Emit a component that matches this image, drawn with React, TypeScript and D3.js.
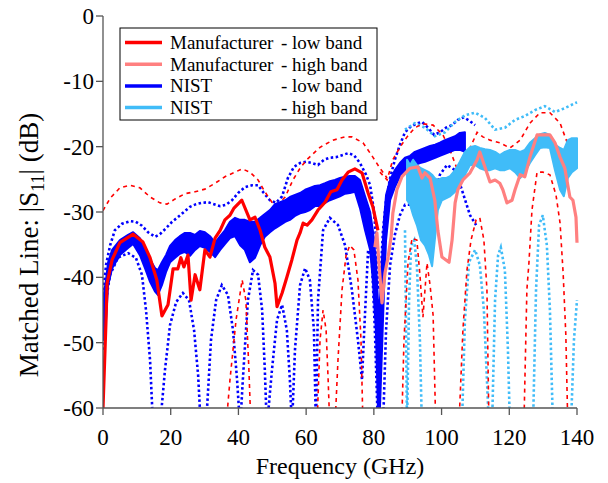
import React from 'react';
import * as d3 from 'd3';

// ---- axis ticks ----
const xTicks = [0, 20, 40, 60, 80, 100, 120, 140];
const yTicks = [0, -10, -20, -30, -40, -50, -60];

// ---- Manufacturer low band (solid) [GHz, dB] ----
const mfrLow = [[0,-60],[0.9,-46.5],[1.2,-40.9],[2.7,-37.3],[5.0,-34.7],[8.9,-33.4],[11.8,-34.6],[13.9,-37.0],[15.9,-40.4],[17.4,-45.9],[19.2,-44.2],[20.7,-38.7],[22.1,-38.7],[23.0,-37.0],[23.9,-38.4],[25.1,-36.6],[26.0,-43.5],[27.2,-39.6],[28.6,-41.9],[30.1,-35.8],[31.6,-36.9],[33.1,-34.0],[34.6,-32.8],[36.0,-31.2],[37.5,-30.5],[38.7,-29.4],[41.0,-28.2],[43.4,-31.2],[44.9,-30.8],[46.4,-32.8],[47.8,-35.4],[49.3,-36.9],[50.8,-40.9],[51.4,-44.5],[52.9,-42.4],[54.3,-40.0],[55.8,-37.3],[57.3,-34.3],[58.2,-33.2],[59.1,-31.7],[60.3,-32.0],[61.7,-31.2],[63.5,-29.7],[65.6,-28.5],[67.3,-26.9],[69.1,-26.6],[70.6,-25.1],[72.4,-23.9],[74.4,-23.4],[76.5,-24.0],[78.3,-27.1],[79.7,-29.2],[81.2,-32.8]];

// ---- Manufacturer high band (solid) ----
const mfrHigh = [[80.3,-35.4],[80.9,-33.2],[81.5,-37.8],[82.4,-43.9],[83.3,-39.3],[84.2,-36.9],[85.1,-33.8],[85.6,-30.2],[86.8,-26.6],[88.3,-24.6],[90.7,-23.3],[93.0,-23.1],[94.2,-24.8],[95.1,-24.0],[96.6,-24.8],[98.0,-28.2],[98.9,-32.8],[100.1,-36.9],[102.2,-37.7],[103.1,-34.3],[104.0,-28.6],[104.8,-26.6],[106.3,-25.1],[108.4,-24.0],[110.5,-22.0],[111.3,-20.8],[112.8,-23.1],[114.3,-25.4],[115.8,-25.1],[117.2,-25.6],[118.1,-26.6],[119.3,-28.6],[120.8,-28.2],[121.7,-26.6],[123.2,-24.3],[124.6,-24.6],[126.1,-21.6],[128.2,-18.2],[132.0,-18.2],[133.5,-19.4],[135.0,-21.6],[136.4,-23.3],[137.9,-27.7],[138.8,-28.2],[139.7,-30.8],[140,-34.7]];

// ---- Manufacturer uncertainty bounds (dashed) ----
const mfrLowUpper = [[0,-29.8],[2.1,-27.9],[5.0,-26.3],[8.0,-25.9],[10.9,-26.3],[13.9,-27.7],[16.8,-28.6],[18.9,-28.8],[21.3,-28.0],[24.2,-27.2],[27.2,-26.9],[30.1,-26.5],[33.1,-25.6],[36.0,-24.6],[39.0,-23.9],[41.1,-23.4],[43.4,-23.9],[45.8,-25.1],[47.8,-26.9],[49.9,-28.5],[51.7,-28.8],[53.8,-27.7],[56.1,-25.1],[58.2,-23.3],[60.2,-22.0],[64.1,-20.1],[67.9,-19.0],[71.5,-18.5],[73.5,-18.5],[76.8,-19.4],[79.7,-21.6],[81.8,-23.3],[83.9,-24.8]];
const mfrLowLower = [[0,-63],[36.3,-63],[37.5,-55.7],[39.3,-46.5],[41.1,-40.4],[42.2,-43.5],[43.1,-54.2],[43.7,-63],[63.2,-63],[64.1,-49.6],[65.0,-45.0],[65.9,-48.1],[66.5,-55.7],[67.0,-63],[68.5,-63],[69.4,-52.7],[70.6,-41.9],[71.8,-36.6],[72.9,-35.1],[74.1,-35.8],[75.3,-40.4],[76.2,-49.6],[76.8,-63],[82,-63]];
const mfrHighUpper = [[81.8,-23.9],[83.9,-25.1],[85.6,-22.0],[87.7,-20.1],[89.8,-18.5],[92.1,-17.1],[94.5,-16.5],[97.5,-16.7],[100.4,-18.2],[102.5,-20.5],[104.5,-23.3],[106.3,-23.6],[108.4,-20.2],[110.5,-17.8],[112.2,-18.5],[114.3,-19.0],[117.2,-19.4],[120.2,-20.2],[123.2,-19.0],[126.1,-16.4],[129.1,-14.8],[132.0,-14.8],[135.0,-16.4],[137.9,-20.5],[140,-22.0]];
const mfrHighLower = [[88.2,-63],[88.9,-49.6],[90.1,-37.7],[91.3,-34.0],[92.7,-34.3],[93.6,-39.6],[94.5,-46.1],[95.1,-41.9],[95.7,-37.8],[96.6,-41.2],[97.5,-45.8],[98.3,-63],[105.1,-63],[106.3,-48.1],[107.5,-38.9],[108.7,-34.3],[110.2,-31.2],[111.3,-30.9],[112.5,-34.3],[113.4,-41.9],[114.0,-63],[124.3,-63],[125.2,-41.9],[125.8,-37.8],[126.7,-29.7],[128.2,-23.9],[129.9,-23.9],[132.0,-24.3],[133.8,-27.4],[135.0,-31.7],[135.9,-39.3],[136.7,-48.8],[137.3,-63]];

// ---- NIST low band: [GHz, upper dB, lower dB] of the noisy trace ----
const nistLow = [[0,-43.5,-49.6],[0.9,-40.4,-46.5],[1.5,-37.7,-41.2],[2.7,-35.8,-38.6],[5.0,-34.3,-36.6],[7.4,-33.5,-35.5],[8.9,-33.1,-34.9],[10.9,-34.0,-36.6],[12.4,-35.5,-38.6],[13.9,-37.3,-40.7],[15.4,-38.6,-42.2],[16.2,-38.9,-42.7],[17.4,-37.7,-41.2],[18.6,-36.6,-39.2],[19.8,-35.2,-37.7],[21.3,-34.3,-37.0],[22.7,-33.7,-36.4],[24.2,-33.2,-36.1],[25.7,-33.2,-36.7],[27.2,-33.5,-35.8],[28.6,-32.9,-35.2],[30.1,-33.1,-35.5],[31.6,-33.7,-36.1],[33.1,-34.7,-36.9],[34.6,-33.7,-35.8],[36.0,-32.8,-34.9],[37.5,-31.5,-34.0],[39.0,-30.9,-33.7],[40.5,-31.2,-35.1],[41.9,-31.2,-35.8],[43.4,-31.5,-37.7],[44.9,-31.5,-37.0],[46.4,-30.9,-35.1],[47.8,-30.3,-33.8],[49.3,-29.7,-33.1],[50.8,-28.8,-32.5],[52.3,-28.5,-32.0],[53.8,-28.2,-31.5],[55.2,-27.7,-31.2],[56.7,-27.4,-30.6],[58.2,-27.1,-30.2],[59.7,-26.6,-30.0],[61.1,-26.3,-29.7],[62.6,-26.0,-29.1],[64.1,-25.9,-29.1],[65.6,-25.6,-28.6],[67.0,-25.3,-28.2],[68.5,-25.1,-27.9],[70.0,-24.8,-27.6],[71.5,-24.6,-27.2],[72.9,-24.5,-27.1],[74.4,-24.5,-26.9],[75.9,-25.1,-29.4],[77.4,-27.6,-32.8],[78.9,-30.0,-35.8],[79.7,-32.8,-40.4],[80.6,-37.3,-48.1],[81.2,-43.5,-60],[81.8,-43.5,-60],[82.4,-37.3,-51.1],[83.0,-31.2,-41.9],[83.6,-27.4,-34.3],[84.8,-25.1,-28.2],[86.2,-23.6,-26.2],[87.7,-22.5,-24.6],[89.2,-21.7,-23.7],[90.7,-21.4,-23.4],[92.1,-20.8,-22.8],[93.6,-20.5,-22.5],[95.1,-20.2,-22.3],[96.6,-19.9,-22.0],[98.1,-19.7,-21.7],[99.5,-19.4,-21.4],[101.0,-19.0,-21.1],[102.5,-18.7,-20.8],[104.0,-18.4,-20.5],[105.4,-17.9,-20.5],[106.9,-17.8,-20.8]];

// ---- NIST high band: [GHz, upper dB, lower dB] ----
const nistHigh = [[89.8,-22.0,-28.2],[90.7,-22.8,-28.9],[91.6,-22.0,-30.5],[92.7,-22.8,-32.0],[93.9,-23.3,-34.3],[95.1,-23.6,-35.1],[96.3,-23.9,-36.6],[97.2,-24.3,-38.3],[98.0,-24.8,-34.3],[98.9,-25.1,-29.7],[100.1,-24.8,-28.2],[101.3,-24.8,-27.9],[102.5,-24.5,-27.6],[104.0,-23.6,-26.9],[105.4,-22.3,-26.0],[106.9,-20.8,-24.3],[108.4,-20.1,-22.8],[109.9,-19.9,-22.8],[111.3,-20.2,-23.3],[112.8,-20.4,-23.6],[114.3,-20.5,-23.6],[115.8,-20.8,-23.3],[117.2,-21.3,-23.6],[118.7,-20.8,-23.6],[120.2,-20.5,-23.3],[121.7,-20.5,-23.9],[123.2,-20.8,-24.8],[124.6,-20.5,-23.9],[126.1,-19.4,-22.5],[127.6,-18.7,-21.3],[129.1,-18.1,-20.2],[130.5,-17.9,-20.1],[132.0,-18.2,-20.2],[133.5,-19.7,-23.6],[135.0,-20.2,-26.6],[136.1,-20.5,-27.6],[137.3,-19.0,-24.8],[138.5,-18.7,-23.9],[140,-18.7,-23.3]];

// ---- NIST uncertainty bounds (dotted) ----
const nistLowUpper = [[0,-42.7],[0.9,-38.1],[2.1,-35.1],[3.5,-32.8],[5.6,-31.8],[8.0,-31.4],[9.7,-31.5],[11.5,-32.1],[13.3,-33.1],[15.4,-33.8],[16.8,-33.4],[18.6,-32.5],[20.4,-31.5],[22.1,-30.8],[23.9,-30.0],[25.7,-29.2],[27.5,-28.8],[29.2,-28.6],[31.0,-28.5],[32.8,-28.8],[34.6,-29.1],[36.3,-28.9],[38.1,-28.2],[39.9,-27.1],[41.9,-26.2],[44.0,-25.9],[45.8,-25.9],[47.5,-27.1],[49.3,-28.2],[51.1,-28.6],[52.9,-27.6],[54.6,-24.8],[56.4,-23.1],[58.2,-22.5],[60.0,-22.3],[61.7,-22.5],[63.5,-22.8],[65.3,-22.0],[67.0,-21.7],[68.8,-21.6],[70.6,-21.3],[72.4,-21.0],[74.1,-21.3],[75.9,-22.5],[77.7,-24.3],[78.9,-25.9],[80.0,-29.7],[80.9,-35.8],[81.5,-41.9],[82.1,-38.9],[82.7,-32.8],[83.6,-28.2],[84.8,-24.8],[86.2,-22.0],[87.7,-19.7],[89.2,-17.8],[90.7,-17.0],[92.4,-16.5],[94.2,-16.2],[96.0,-17.1],[97.8,-18.2],[99.5,-17.8],[101.3,-17.1],[103.1,-16.7],[104.8,-15.9],[106.6,-15.5],[108.4,-16.1],[109.9,-16.7]];
const nistLowLower = [[0,-51.1],[0.9,-43.5],[2.1,-39.6],[4.4,-37.0],[7.4,-36.3],[9.7,-37.0],[11.5,-39.6],[12.7,-45.0],[13.9,-52.7],[14.8,-63],[16.8,-63],[18.3,-54.2],[19.8,-47.3],[21.6,-43.8],[23.6,-42.4],[25.4,-43.5],[26.9,-48.1],[28.1,-55.0],[28.9,-63],[30.4,-63],[31.9,-49.6],[33.4,-43.5],[35.1,-41.2],[36.9,-42.7],[38.4,-48.1],[39.6,-55.7],[40.5,-63],[41.3,-55.7],[42.8,-43.5],[44.3,-38.9],[45.8,-39.6],[47.0,-45.0],[47.8,-54.2],[48.4,-63],[49.9,-54.2],[51.4,-46.5],[52.9,-44.2],[54.3,-48.1],[55.2,-55.7],[55.8,-63],[56.7,-51.1],[58.2,-41.2],[59.7,-38.6],[61.1,-40.4],[62.3,-48.1],[62.9,-63],[63.5,-43.5],[65.0,-32.8],[67.0,-30.9],[69.4,-32.0],[71.5,-35.1],[73.5,-41.9],[75.3,-49.6],[76.5,-55.7],[77.1,-48.7],[78.3,-35.8],[79.4,-37.3],[80.3,-48.1],[81.2,-63],[82.7,-63],[83.6,-48.1],[84.8,-38.1],[86.2,-33.5],[87.7,-30.5],[89.2,-28.9],[90.7,-28.9],[92.7,-30.5],[94.8,-31.2],[97.2,-28.9],[99.5,-24.3],[101.6,-22.8],[104.0,-23.6],[106.0,-26.6],[108.4,-30.5],[110.2,-32.0]];
const nistHighUpper = [[89.2,-17.4],[92.1,-16.4],[95.1,-17.1],[98.0,-18.4],[101.0,-17.8],[104.0,-16.2],[106.9,-15.2],[109.9,-14.8],[112.8,-15.6],[115.8,-17.4],[118.7,-17.1],[121.7,-15.9],[124.6,-15.3],[127.6,-14.4],[130.5,-13.8],[133.5,-14.7],[136.4,-14.1],[140,-13.2]];
const nistHighLower = [[89.2,-32.8],[89.8,-63],[90.4,-43.5],[91.0,-35.1],[91.9,-34.3],[92.7,-38.1],[93.6,-49.6],[94.2,-63],[106.0,-63],[106.9,-46.5],[108.1,-37.7],[109.9,-35.8],[111.3,-38.1],[112.5,-45.0],[113.4,-55.7],[114.0,-63],[114.9,-63],[115.8,-43.5],[116.7,-36.6],[117.5,-35.4],[118.7,-38.9],[119.6,-51.1],[120.2,-63],[127.0,-63],[127.9,-41.9],[128.8,-32.0],[129.9,-30.5],[131.1,-35.1],[132.0,-45.0],[132.9,-63],[138.2,-63],[139.1,-49.6],[140,-43.5]];

// ---- legend ----
const legendItems = [
  { name: 'Manufacturer', band: '- low band', color: '#ff0000' },
  { name: 'Manufacturer', band: '- high band', color: '#ff8080' },
  { name: 'NIST', band: '- low band', color: '#0000ff' },
  { name: 'NIST', band: '- high band', color: '#40bcf8' },
];

const FONT = "Liberation Serif, Times New Roman, DejaVu Serif, serif";
const C_RED = '#ff0000';
const C_PINK = '#ff8080';
const C_BLUE = '#0000ff';
const C_LBLUE = '#40bcf8';
const AXIS = '#555555';

export default function App() {
  const x = d3.scaleLinear().domain([0, 140]).range([103, 577]);
  const y = d3.scaleLinear().domain([-60, 0]).range([408, 16]);
  const [x0, x1] = x.range();
  const [yb, yt] = y.range();

  const line = d3.line<number[]>().x(d => x(d[0])).y(d => y(d[1]));
  const band = d3.area<number[]>().x(d => x(d[0])).y0(d => y(d[2])).y1(d => y(d[1]));

  const dashed = { fill: 'none', stroke: C_RED, strokeWidth: 1.6, strokeDasharray: '4 4' };
  const dottedB = { fill: 'none', stroke: C_BLUE, strokeWidth: 2.6, strokeDasharray: '2.5 2.5' };
  const dottedL = { fill: 'none', stroke: C_LBLUE, strokeWidth: 2.6, strokeDasharray: '2.5 2.5' };
  const txt = { fontFamily: FONT };

  return (
    <svg width={608} height={483} style={{ position: 'absolute', left: 0, top: 0, background: '#fff', fontFamily: FONT }}>
      <defs>
        <clipPath id="plotClip">
          <rect x={x0} y={yt} width={x1 - x0 + 2} height={yb - yt} />
        </clipPath>
      </defs>
      <g clipPath="url(#plotClip)">
        <path d={line(nistLowUpper) || ''} {...dottedB} />
        <path d={line(nistLowLower) || ''} {...dottedB} />
        <path d={line(nistHighUpper) || ''} {...dottedL} />
        <path d={line(nistHighLower) || ''} {...dottedL} />
        <path d={line(mfrLowUpper) || ''} {...dashed} />
        <path d={line(mfrLowLower) || ''} {...dashed} />
        <path d={line(mfrHighUpper) || ''} {...dashed} />
        <path d={line(mfrHighLower) || ''} {...dashed} />
        <path d={band(nistLow) || ''} fill={C_BLUE} stroke={C_BLUE} strokeWidth={2} strokeLinejoin="round" />
        <path d={band(nistHigh) || ''} fill={C_LBLUE} stroke={C_LBLUE} strokeWidth={2} strokeLinejoin="round" />
        <path d={line(mfrLow) || ''} fill="none" stroke={C_RED} strokeWidth={3.2} strokeLinejoin="round" />
        <path d={line(mfrHigh) || ''} fill="none" stroke={C_PINK} strokeWidth={3.2} strokeLinejoin="round" />
      </g>

      {/* Y axis */}
      <line x1={x0} x2={x0} y1={yt} y2={yb} stroke={AXIS} strokeWidth={1.3} />
      {yTicks.map(t => (
        <g key={'y' + t}>
          <line x1={x0 - 7} x2={x0} y1={y(t)} y2={y(t)} stroke={AXIS} strokeWidth={1.3} />
          <text x={x0 - 9} y={y(t) + 8} textAnchor="end" fontSize={23} fill="#000" style={txt}>{t}</text>
        </g>
      ))}
      {/* X axis */}
      <line x1={x0} x2={x1} y1={yb} y2={yb} stroke={AXIS} strokeWidth={1.3} />
      {xTicks.map(t => (
        <g key={'x' + t}>
          <line x1={x(t)} x2={x(t)} y1={yb} y2={yb + 7} stroke={AXIS} strokeWidth={1.3} />
          <text x={x(t)} y={yb + 37} textAnchor="middle" fontSize={23} fill="#000" style={txt}>{t}</text>
        </g>
      ))}
      <text x={340} y={474} textAnchor="middle" fontSize={24} fill="#000" style={txt}>Frequency (GHz)</text>
      <text transform="translate(38,245) rotate(-90)" textAnchor="middle" fontSize={27} fill="#000" style={txt}>
        Matched Line: |S<tspan fontSize={18} dy={6}>11</tspan><tspan dy={-6}>| (dB)</tspan>
      </text>

      {/* Legend */}
      <rect x={120} y={28} width={257} height={92} fill="#fff" stroke="#000" strokeWidth={1} />
      {legendItems.map((it, i) => (
        <g key={i}>
          <line x1={125} x2={162} y1={42.5 + i * 21.7} y2={42.5 + i * 21.7} stroke={it.color} strokeWidth={3.5} />
          <text x={170} y={49 + i * 21.7} fontSize={19} fill="#000" style={txt}>{it.name}</text>
          <text x={281} y={49 + i * 21.7} fontSize={19} fill="#000" style={txt}>{it.band}</text>
        </g>
      ))}
    </svg>
  );
}
